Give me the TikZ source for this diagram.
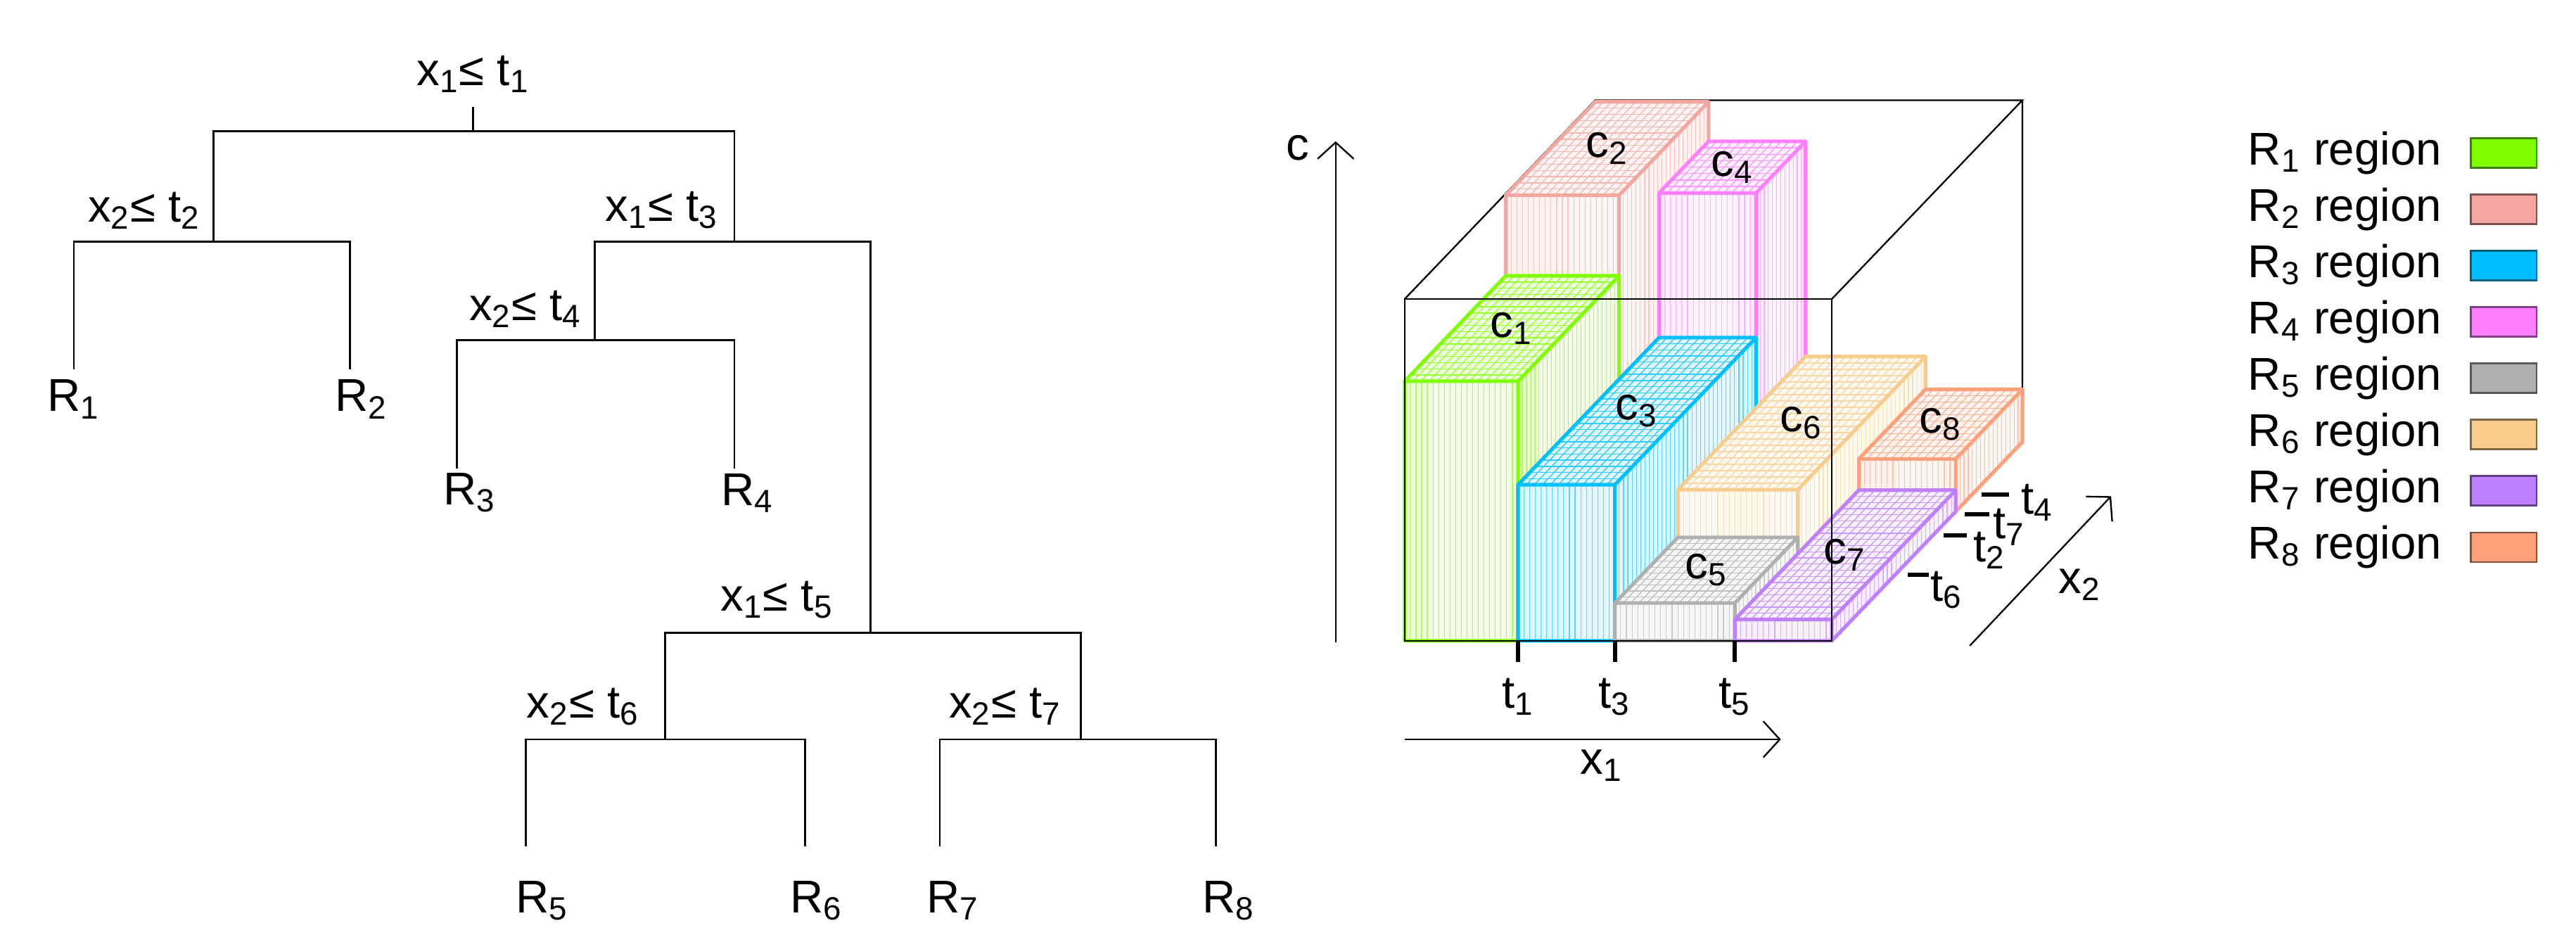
\documentclass[tikz,border=0pt]{standalone}
\usepackage{fontspec}
\setmainfont{Liberation Sans}
\usetikzlibrary{arrows.meta}
\definecolor{cRa}{HTML}{7FFF00}
\definecolor{cRb}{HTML}{F4A6A0}
\definecolor{cRc}{HTML}{00BFFF}
\definecolor{cRd}{HTML}{FF7FFF}
\definecolor{cRe}{HTML}{B0B0B0}
\definecolor{cRf}{HTML}{F8CC8C}
\definecolor{cRg}{HTML}{BF80FF}
\definecolor{cRh}{HTML}{FFA07A}
\newcommand\sbs[1]{\textsubscript{#1}}
\newcommand\mybox[6]{%
 \fill[#6!12] (#1,0,#3)--(#2,0,#3)--(#2,0,#4)--(#2,#5,#4)--(#1,#5,#4)--(#1,#5,#3)--cycle;
 \pgfmathtruncatemacro\nf{max(2,round((#2-#1)/3.5))}%
 \pgfmathtruncatemacro\nd{max(2,round((#4-#3)*45))}%
 \pgfmathtruncatemacro\ntx{max(2,round((#2-#1)/5))}%
 \pgfmathtruncatemacro\ntz{max(2,round((#4-#3)*32))}%
 \foreach \k in {1,...,\nf}{\pgfmathsetmacro\xx{#1+\k*(#2-#1)/\nf}\draw[#6!65,line width=.25pt] (\xx,0,#3)--(\xx,#5,#3);}
 \foreach \k in {1,...,\nd}{\pgfmathsetmacro\zz{#3+\k*(#4-#3)/\nd}\draw[#6!65,line width=.25pt] (#2,0,\zz)--(#2,#5,\zz);}
 \foreach \k in {1,...,\ntx}{\pgfmathsetmacro\xx{#1+\k*(#2-#1)/\ntx}\draw[#6!80,line width=.3pt] (\xx,#5,#3)--(\xx,#5,#4);}
 \foreach \k in {1,...,\ntz}{\pgfmathsetmacro\zz{#3+\k*(#4-#3)/\ntz}\draw[#6!80,line width=.3pt] (#1,#5,\zz)--(#2,#5,\zz);}
 \draw[#6,line width=1.1pt,line join=round] (#1,0,#3)--(#2,0,#3)--(#2,#5,#3)--(#1,#5,#3)--cycle
   (#2,0,#3)--(#2,0,#4)--(#2,#5,#4)--(#2,#5,#3) (#2,#5,#4)--(#1,#5,#4)--(#1,#5,#3);
}
\begin{document}
\begin{tikzpicture}[x=0.5pt,y=-0.5pt,font=\fontsize{14}{16}\selectfont,
  tree/.style={line width=0.6pt},
  frame/.style={line width=0.5pt,black},
  ax/.style={line width=0.5pt,-{Straight Barb[length=5pt,width=11pt]}},
  tk/.style={line width=1.3pt},
  lbl/.style={inner sep=1pt}]
\useasboundingbox (0,0) rectangle (1568,573);
% ---------- tree ----------
\node[lbl] (n1) at (288,45) {x\sbs1≤ t\sbs1};
\node[lbl] (n2) at (88,128) {x\sbs2≤ t\sbs2};
\node[lbl] (n3) at (403,128) {x\sbs1≤ t\sbs3};
\node[lbl] (n4) at (320,188) {x\sbs2≤ t\sbs4};
\node[lbl] (n5) at (473,365) {x\sbs1≤ t\sbs5};
\node[lbl] (n6) at (355,430) {x\sbs2≤ t\sbs6};
\node[lbl] (n7) at (612,430) {x\sbs2≤ t\sbs7};
\coordinate (r0) at (288,65); \coordinate (r) at (288,80);
\coordinate (a) at (130,147); \coordinate (b) at (447,147);
\coordinate (d) at (362,207); \coordinate (e) at (530,385);
\coordinate (f) at (405,450); \coordinate (g) at (658,450);
\coordinate (l1) at (45,225); \coordinate (l2) at (213,225);
\coordinate (l3) at (278,285); \coordinate (l4) at (447,285);
\coordinate (l5) at (320,515); \coordinate (l6) at (490,515);
\coordinate (l7) at (572,515); \coordinate (l8) at (740,515);
\node[lbl] (R1) at (45,243) {R\sbs1};
\node[lbl] (R2) at (220,243) {R\sbs2};
\node[lbl] (R3) at (286,300) {R\sbs3};
\node[lbl] (R4) at (455,300) {R\sbs4};
\node[lbl] (R5) at (330,548) {R\sbs5};
\node[lbl] (R6) at (497,548) {R\sbs6};
\node[lbl] (R7) at (580,548) {R\sbs7};
\node[lbl] (R8) at (748,548) {R\sbs8};
\draw[tree] (r0) -- (r);
\draw[tree] (a) |- (r) -| (b);
\draw[tree] (l1) |- (a) -| (l2);
\draw[tree] (d) |- (b) -| (e);
\draw[tree] (l3) |- (d) -| (l4);
\draw[tree] (f) |- (e) -| (g);
\draw[tree] (l5) |- (f) -| (l6);
\draw[tree] (l7) |- (g) -| (l8);
% ---------- 3D plot ----------
\begin{scope}[shift={(855,390)},x={(0.5pt,0pt)},y={(0pt,0.5pt)},z={(58pt,60.5pt)}]
 \draw[frame] (0,208,0)--(0,208,1)--(260,208,1)--(260,208,0) (260,208,1)--(260,0,1);
 \mybox{0}{69}{0.53}{1}{207}{cRb}
 \mybox{69}{128}{0.74}{1}{183}{cRd}
 \mybox{0}{69}{0}{0.53}{158}{cRa}
 \mybox{69}{128}{0}{0.74}{95}{cRc}
 \mybox{128}{201}{0.33}{1}{52}{cRf}
 \mybox{201}{260}{0.65}{1}{32}{cRh}
 \mybox{128}{201}{0}{0.33}{23}{cRe}
 \mybox{201}{260}{0}{0.65}{13}{cRg}
 \draw[frame] (0,0,0)--(260,0,0)--(260,208,0)--(0,208,0)--cycle;
 \node[lbl] (c1) at (34.5,158,0.265) {c\sbs1};
 \node[lbl] (c2) at (34.5,207,0.765) {c\sbs2};
 \node[lbl] (c3) at (98.5,95,0.37) {c\sbs3};
 \node[lbl] (c4) at (98.5,183,0.87) {c\sbs4};
 \node[lbl] (c5) at (164.5,23,0.165) {c\sbs5};
 \node[lbl] (c6) at (164.5,52,0.665) {c\sbs6};
 \node[lbl] (c7) at (230.5,13,0.325) {c\sbs7};
 \node[lbl] (c8) at (230.5,32,0.825) {c\sbs8};
\end{scope}
\coordinate (cA) at (813,391); \coordinate (cB) at (813,86);
\coordinate (xA) at (855,450); \coordinate (xB) at (1084,450);
\coordinate (zA) at (1199,393); \coordinate (zB) at (1285,302);
\draw[ax] (cA) -- (cB); \draw[ax] (xA) -- (xB); \draw[ax] (zA) -- (zB);
\node[lbl] (lc) at (790,90) {c};
\node[lbl] (lx1) at (975,466) {x\sbs1};
\node[lbl] (lx2) at (1266,356) {x\sbs2};
\foreach \p/\n in {924/1,983/3,1056/5}{
  \coordinate (ta\n) at (\p,390); \coordinate (tb\n) at (\p,403);
  \draw[tk] (ta\n) -- (tb\n);
  \node[lbl] (tl\n) at (\p,424) {t\sbs{\n}};}
\foreach \xa/\xb/\yy/\lx/\ly/\n in {1206/1223/301/1240/306/4,1196/1211/313/1223/321/7,1183/1197/326/1211/335/2,1161/1174/350/1185/359/6}{
  \coordinate (sa\n) at (\xa,\yy); \coordinate (sb\n) at (\xb,\yy);
  \draw[tk] (sa\n) -- (sb\n);
  \node[lbl] (sl\n) at (\lx,\ly) {t\sbs{\n}};}
% ---------- legend ----------
\foreach \i/\c in {1/cRa,2/cRb,3/cRc,4/cRd,5/cRe,6/cRf,7/cRg,8/cRh}{
  \pgfmathsetmacro\yy{93+34.3*(\i-1)}
  \node[lbl,anchor=west] (lg\i) at (1366,\yy) {R\sbs{\i} region};
  \draw[fill=\c,draw=\c!50!black,line width=0.6pt] (1504,\yy-9) rectangle (1544,\yy+9);}
\end{tikzpicture}
\end{document}
